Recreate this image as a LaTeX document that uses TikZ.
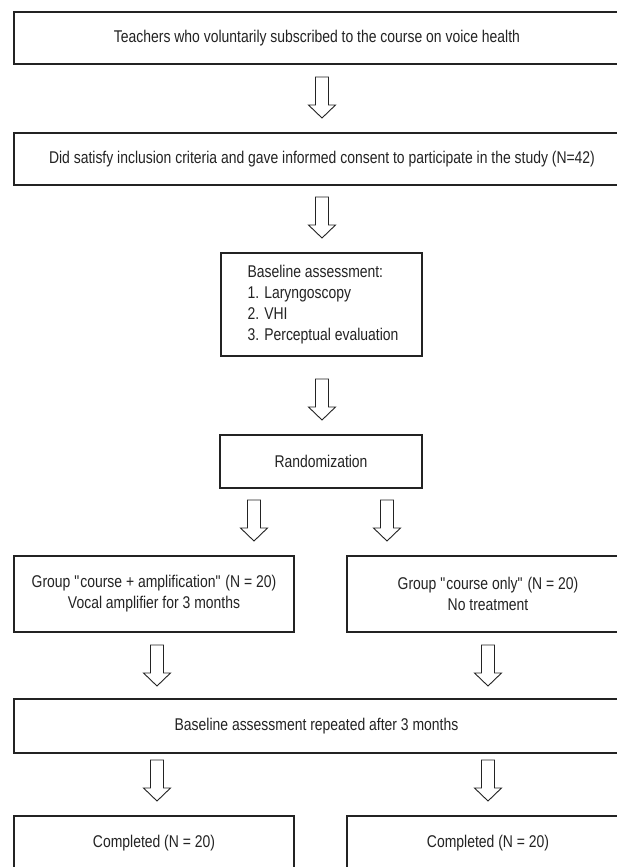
\documentclass[tikz,border=0pt]{standalone}
\usepackage{fontspec}
\setmainfont{Liberation Sans}[FakeStretch=0.82]
\usetikzlibrary{calc}
\definecolor{ink}{RGB}{35,35,35}
\newcommand\diafont{\fontsize{17}{21}\selectfont}
\newcommand\sq{\textquotedbl{}}
\begin{document}
\begin{tikzpicture}[x=1pt,y=-1pt,
  box/.style={draw=ink, line width=1.3pt, rectangle, inner sep=0pt, text=ink, align=center, font=\diafont},
  lbl/.style={inner sep=0pt, text=ink, align=left, font=\diafont},
  arrline/.style={draw=ink, line width=0.9pt, fill=white, line join=miter},
  pics/downarrow/.style={code={
    \draw[arrline] (-6.5,0) -- (6.5,0) -- (6.5,28) -- (13.5,28) -- (0,41) -- (-13.5,28) -- (-6.5,28) -- cycle;}}
]
\clip (0,0) rectangle (617,867);
\fill[white] (0,0) rectangle (617,867);

\node[box, minimum width=606, minimum height=52] (b1) at (317,38)
  {Teachers who voluntarily subscribed to the course on voice health};
\node[box, minimum width=616, minimum height=52] (b2) at (322,159)
  {Did satisfy inclusion criteria and gave informed consent to participate in the study (N=42)};
\node[box, minimum width=201, minimum height=103] (b3) at (321.5,304.5) {};
\node[lbl, anchor=west] (b3t) at ([xshift=27]b3.west)
  {Baseline assessment:\\1. Laryngoscopy\\2. VHI\\3. Perceptual evaluation};
\node[box, minimum width=202, minimum height=53] (b4) at (321,461.5) {Randomization};
\node[box, minimum width=280, minimum height=76] (g1) at (154,594)
  {Group \sq course + amplification\sq\ (N = 20)\\Vocal amplifier for 3 months};
\node[box, minimum width=282, minimum height=76] (g2) at (488,594)
  {Group \sq course only\sq\ (N = 20)\\No treatment};
\node[box, minimum width=605, minimum height=54] (b6) at (316.5,726)
  {Baseline assessment repeated after 3 months};
\node[box, minimum width=280, minimum height=54] (c1) at (154,843) {Completed (N = 20)};
\node[box, minimum width=282, minimum height=54] (c2) at (488,843) {Completed (N = 20)};

\pic at (322,77) {downarrow};
\pic at (322,197) {downarrow};
\pic at (322,379) {downarrow};
\pic at (254,500) {downarrow};
\pic at (387,500) {downarrow};
\pic at (157,645) {downarrow};
\pic at (488,645) {downarrow};
\pic at (157,760) {downarrow};
\pic at (488,760) {downarrow};
\end{tikzpicture}
\end{document}
